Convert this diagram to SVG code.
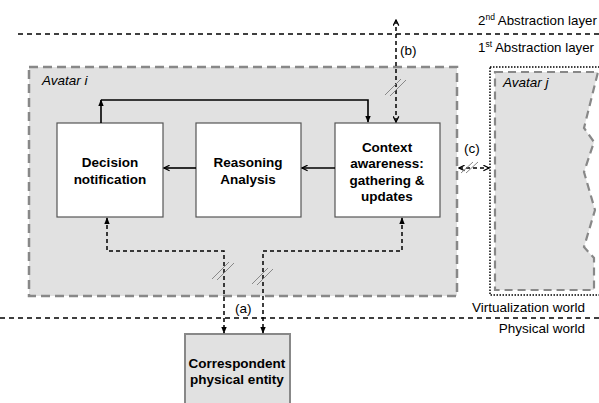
<svg xmlns="http://www.w3.org/2000/svg" width="599" height="403" viewBox="0 0 599 403">
<style>
text{font-family:"Liberation Sans",Arial,sans-serif;fill:#000}
.lbl{font-size:13.5px}
.abs{font-size:13.3px}
.b{font-size:13.5px;font-weight:bold;text-anchor:middle}
.it{font-size:13.5px;font-style:italic}
.box{fill:#fff;stroke:#555;stroke-width:1.2}
.layer{fill:none;stroke:#000;stroke-width:1.5;stroke-dasharray:5 4}
.solid{fill:none;stroke:#000;stroke-width:1.6}
.dash{fill:none;stroke:#000;stroke-width:1.5;stroke-dasharray:4 3}
.slash{stroke:#888;stroke-width:1}
</style>
<defs>
<marker id="ah" viewBox="0 0 10 10" refX="9" refY="5" markerWidth="7" markerHeight="7" markerUnits="userSpaceOnUse" orient="auto-start-reverse">
<path d="M1,1 L9,5 L1,9" fill="none" stroke="#000" stroke-width="1.8"/>
</marker>
<marker id="af" viewBox="0 0 10 10" refX="9" refY="5" markerWidth="7" markerHeight="7" markerUnits="userSpaceOnUse" orient="auto-start-reverse">
<path d="M0,1 L10,5 L0,9 z" fill="#000"/>
</marker>
</defs>

<g id="layers">
<line class="layer" x1="18" y1="34" x2="599" y2="34"/>
<line class="layer" x1="0" y1="318" x2="599" y2="318"/>
<text class="abs" x="478" y="25">2<tspan font-size="8.5" dy="-5">nd</tspan><tspan dy="5"> Abstraction layer</tspan></text>
<text class="abs" x="478" y="52">1<tspan font-size="8.5" dy="-5">st</tspan><tspan dy="5"> Abstraction layer</tspan></text>
<text class="lbl" x="585" y="312" text-anchor="end">Virtualization world</text>
<text class="lbl" x="585" y="333" text-anchor="end">Physical world</text>
</g>

<g id="avatar-i">
<rect x="29" y="67" width="428" height="229" fill="#e1e1e1" stroke="#888" stroke-width="2.5" stroke-dasharray="9 5"/>
<text class="it" x="42" y="85">Avatar i</text>
</g>

<g id="avatar-j">
<rect x="490" y="67" width="112" height="228" fill="none" stroke="#000" stroke-width="1.5" stroke-dasharray="1.5 1.5"/>
<path d="M495,72 L598,72 L584,128 L594,142 L584,172 L595,210 L584,247 L594,258 L594,290 L495,290 Z" fill="#e1e1e1" stroke="#888" stroke-width="2.2" stroke-dasharray="8 5"/>
<text class="it" x="503" y="87">Avatar j</text>
</g>

<g id="decision">
<rect class="box" x="57" y="123" width="106" height="94"/>
<text class="b" x="110" y="167">Decision</text>
<text class="b" x="110" y="184">notification</text>
</g>

<g id="reasoning">
<rect class="box" x="196" y="123" width="105" height="94"/>
<text class="b" x="248" y="167">Reasoning</text>
<text class="b" x="248" y="184">Analysis</text>
</g>

<g id="context">
<rect class="box" x="335" y="123" width="105" height="94"/>
<text class="b" x="387" y="152">Context</text>
<text class="b" x="387" y="168">awareness:</text>
<text class="b" x="387" y="185">gathering &amp;</text>
<text class="b" x="387" y="201">updates</text>
</g>

<g id="entity">
<rect x="185" y="334" width="105" height="80" fill="#e1e1e1" stroke="#888" stroke-width="2"/>
<text class="b" x="237" y="368">Correspondent</text>
<text class="b" x="237" y="384">physical entity</text>
</g>

<g id="connectors">
<line class="solid" x1="335" y1="168" x2="302" y2="168" marker-end="url(#ah)"/>
<line class="solid" x1="196" y1="168" x2="164" y2="168" marker-end="url(#ah)"/>
<line class="solid" x1="101" y1="123" x2="101" y2="100" marker-end="url(#af)"/>
<polyline class="solid" points="101,100 368,100 368,122" marker-end="url(#af)"/>

<line class="dash" x1="396" y1="20" x2="396" y2="122" marker-start="url(#ah)" marker-end="url(#ah)"/>
<line class="slash" x1="385" y1="95" x2="401" y2="79"/>
<line class="slash" x1="390" y1="96" x2="406" y2="80"/>
<text class="lbl" x="400" y="55">(b)</text>

<line class="dash" x1="459" y1="168" x2="489" y2="168" marker-start="url(#ah)" marker-end="url(#ah)"/>
<line class="slash" x1="461" y1="173" x2="473" y2="162"/>
<line class="slash" x1="466" y1="173" x2="478" y2="162"/>
<text class="lbl" x="464" y="153">(c)</text>

<polyline class="dash" points="107,218 107,251 224,251 224,333" marker-start="url(#af)" marker-end="url(#af)"/>
<polyline class="dash" points="402,218 402,251 263,251 263,333" marker-start="url(#af)" marker-end="url(#af)"/>
<line class="slash" x1="212" y1="279" x2="229" y2="262"/>
<line class="slash" x1="217" y1="280" x2="234" y2="263"/>
<line class="slash" x1="252" y1="284" x2="268" y2="268"/>
<line class="slash" x1="257" y1="285" x2="273" y2="269"/>
<text class="lbl" x="235" y="313">(a)</text>
</g>
</svg>
